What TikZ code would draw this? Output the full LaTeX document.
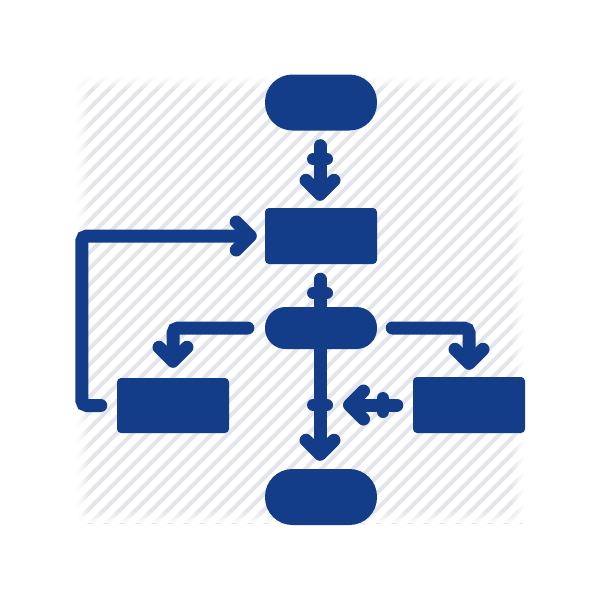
\documentclass[tikz,border=0pt]{standalone}
\usetikzlibrary{arrows.meta,fadings}
\definecolor{flowblue}{HTML}{133C89}
\definecolor{hatchgray}{HTML}{E3E5EA}

\begin{document}
\begin{tikzpicture}[x=1pt, y=-1pt,
    >={Straight Barb[length=14pt, width=28pt, round]},
    flow/.style = {->,
                   draw = flowblue,
                   line width = 13pt,
                   line cap = round,
                   shorten <= 15pt,
                   shorten >= 7pt},
    tickbar/.style = {draw = flowblue,
                      line width = 12pt,
                      line cap = round},
    box/.style = {rectangle,
                  fill = flowblue,
                  inner sep = 0pt,
                  minimum width = 112pt,
                  minimum height = 56pt,
                  rounded corners = 4pt},
    term/.style = {box,
                   rounded corners = 27.5pt}]

    \useasboundingbox (0,0) rectangle (600,600);

    % hatched backdrop, soft edges
    \begin{scope}
        \clip (77,77) rectangle (523,523);
        \foreach \c in {150,166,...,1060}
            \draw[hatchgray, line width = 4pt] (0,\c) -- (\c,0);
    \end{scope}
    \fill[white, path fading = east] (77,77) rectangle (89,523);
    \fill[white, path fading = west] (511,77) rectangle (523,523);
    \fill[white, path fading = south] (77,77) rectangle (523,89);
    \fill[white, path fading = north] (77,511) rectangle (523,523);

    % shapes
    \node[term] (Start) at (321,102.5) {};

    \node[box] (Proc) at (321,236) {};

    \node[term,
          minimum height = 42pt,
          rounded corners = 20.5pt] (Dec) at (321,328) {};

    \node[box,
          minimum height = 55pt] (Left) at (173,405.5) {};

    \node[box] (Right) at (469,405) {};

    \node[term] (End) at (321,497) {};

    % connectors
    \draw[flow] (Start.south -| 320,0) -- (Proc.north -| 320,0);
    \draw[tickbar] (313,159) -- (327,159);

    \draw[flow, shorten >= 8pt] (Proc.south -| 320,0) -- (End.north -| 320,0);
    \draw[tickbar] (313,293) -- (327,293);
    \draw[tickbar] (313,405) -- (327,405);

    \draw[flow,
          rounded corners = 5pt,
          shorten <= 17pt,
          shorten >= 10pt] (Dec.west) -| (Left.north);

    \draw[flow,
          rounded corners = 5pt] (Dec.east) -| (Right.north);

    \draw[flow,
          rounded corners = 5pt,
          shorten <= 16pt,
          shorten >= 8pt] (Left.west) -- ++(-35,0) |- (Proc.west);

    \draw[flow,
          shorten <= 16pt,
          shorten >= 23pt] (Right.west) -- (Right.west -| 320,0);
    \draw[tickbar] (383,398) -- (383,412);

\end{tikzpicture}
\end{document}
